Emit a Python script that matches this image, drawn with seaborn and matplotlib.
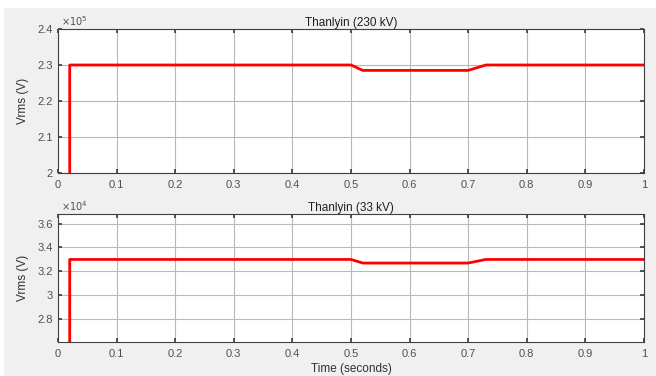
import matplotlib
matplotlib.use("Agg")
import matplotlib.pyplot as plt
from matplotlib.patches import Rectangle
import seaborn as sns
import pandas as pd

# simulated Vrms at Thanlyin substation
time_s = [0.0, 0.02, 0.02, 0.50, 0.52, 0.70, 0.73, 1.00]
vrms_230 = [0.0, 0.0, 2.30e5, 2.30e5, 2.285e5, 2.285e5, 2.30e5, 2.30e5]
vrms_33 = [0.0, 0.0, 3.30e4, 3.30e4, 3.27e4, 3.27e4, 3.30e4, 3.30e4]

x_ticks = [0, 0.1, 0.2, 0.3, 0.4, 0.5, 0.6, 0.7, 0.8, 0.9, 1]
x_labels = ["0", "0.1", "0.2", "0.3", "0.4", "0.5", "0.6", "0.7", "0.8", "0.9", "1"]
y_ticks_230 = [2.0e5, 2.1e5, 2.2e5, 2.3e5, 2.4e5]
y_labels_230 = ["2", "2.1", "2.2", "2.3", "2.4"]
y_ticks_33 = [2.8e4, 3.0e4, 3.2e4, 3.4e4, 3.6e4]
y_labels_33 = ["2.8", "3", "3.2", "3.4", "3.6"]

sns.set_theme(style="whitegrid")
plt.rcParams["font.family"] = ["Liberation Sans", "DejaVu Sans"]

fig = plt.figure(figsize=(6.56, 3.76), dpi=100, facecolor="white")
# grey window area, leaving a thin white margin top and left
fig.patches.append(Rectangle((4/656, 0), 1, 1 - 8/376, transform=fig.transFigure,
                             facecolor="#f0f0f0", edgecolor="none", zorder=-10))
ax1 = fig.add_axes([58/656, 1 - 173/376, 586/656, 144/376])
ax2 = fig.add_axes([58/656, 1 - 342/376, 586/656, 128/376])

panels = [
    (ax1, vrms_230, "Thanlyin (230 kV)", (2.0e5, 2.4e5), y_ticks_230, y_labels_230, "5"),
    (ax2, vrms_33, "Thanlyin (33 kV)", (2.61e4, 3.68e4), y_ticks_33, y_labels_33, "4"),
]

for ax, vals, title, ylim, yt, yl, expo in panels:
    df = pd.DataFrame({"t": time_s, "v": vals})
    sns.lineplot(data=df, x="t", y="v", ax=ax, sort=False, estimator=None,
                 color="#ff0000", linewidth=2)
    ax.set_facecolor("white")
    ax.set_xlim(0, 1)
    ax.set_ylim(*ylim)
    ax.set_xticks(x_ticks)
    ax.set_xticklabels(x_labels)
    ax.set_yticks(yt)
    ax.set_yticklabels(yl)
    ax.text(0.005, 1.01, r"$\times10^{%s}$" % expo, transform=ax.transAxes,
            fontsize=7, color="#505050", va="bottom", ha="left")
    ax.grid(True, color="#b8b8b8", linewidth=0.8)
    for s in ax.spines.values():
        s.set_visible(True)
        s.set_color("#404040")
        s.set_linewidth(0.8)
    ax.tick_params(axis="both", direction="in", length=3, labelsize=8,
                   colors="#404040", labelcolor="#505050",
                   top=True, right=True, bottom=True, left=True)
    ax.tick_params(axis="x", pad=5)
    ax.set_title(title, fontsize=8.5, pad=2, color="#202020")
    ax.set_ylabel("Vrms (V)", fontsize=8.5, color="#303030", labelpad=6)
    ax.set_xlabel("")

ax2.set_xlabel("Time (seconds)", fontsize=8.5, color="#303030", labelpad=3)

fig.savefig("out.png", dpi=100, facecolor=fig.get_facecolor())
